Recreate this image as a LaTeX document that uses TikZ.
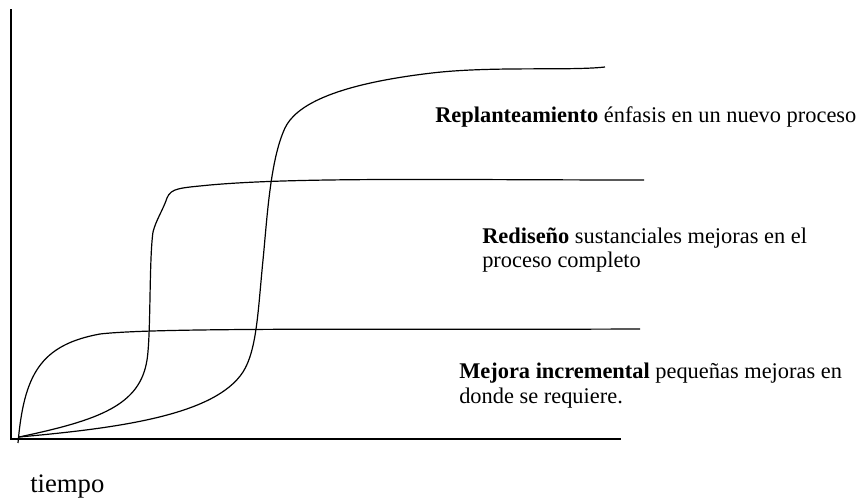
\documentclass[tikz,border=0pt]{standalone}
\usepackage{fontspec}
\setmainfont{Liberation Serif}
\usetikzlibrary{positioning,calc}
\tikzset{
  eje/.style={line width=1pt,line cap=rect},
  curva/.style={line width=0.9pt},
  etiqueta/.style={inner sep=0pt,anchor=base west,font=\fontsize{16.8}{20}\selectfont},
}

\begin{document}
\begin{tikzpicture}[x=0.75pt,y=0.75pt,yscale=-1,xscale=1]
\useasboundingbox (0,0) rectangle (864,498);

%Axes
\coordinate (origen) at (11,439) ;
\coordinate (ytop) at (11,10) ;
\coordinate (xend) at (620,439) ;
\draw [eje] (ytop) -- (origen) -- (xend) ;

%Curve Lines [mejora incremental]
\draw [curva] (18,443) .. controls (24,375) and (40,345) .. (100,334) .. controls (160,327) and (400,330) .. (640,329) ;
%Curve Lines [rediseno]
\draw [curva] (19,437) .. controls (100,420) and (140,405) .. (147,360) .. controls (151,335) and (149,260) .. (153,232) .. controls (156,220) and (163,210) .. (167,198) .. controls (171,188) and (180,188) .. (210,185) .. controls (300,177) and (450,180) .. (644,180) ;
%Curve Lines [replanteamiento]
\draw [curva] (19,437) .. controls (120,428) and (215,415) .. (243,372) .. controls (257,350) and (258,310) .. (263,260) .. controls (267,220) and (270,160) .. (285,128) .. controls (295,107) and (330,85) .. (432,73) .. controls (492,66) and (570,71) .. (605,67) ;

%Labels
\node [etiqueta] (replan) at (435,123) {\textbf{Replanteamiento} énfasis en un nuevo proceso};
\node [etiqueta] (redis) at (482,244) {\textbf{Rediseño} sustanciales mejoras en el};
\node [etiqueta] (redis2) at ([yshift=18pt]redis.base west) {proceso completo};
\node [etiqueta] (mejora) at (459,379) {\textbf{Mejora incremental} pequeñas mejoras en};
\node [etiqueta] (mejora2) at ([yshift=18.75pt]mejora.base west) {donde se requiere.};
\node [etiqueta,font=\fontsize{20}{24}\selectfont] (tiempo) at (30,493) {tiempo};
\end{tikzpicture}
\end{document}
